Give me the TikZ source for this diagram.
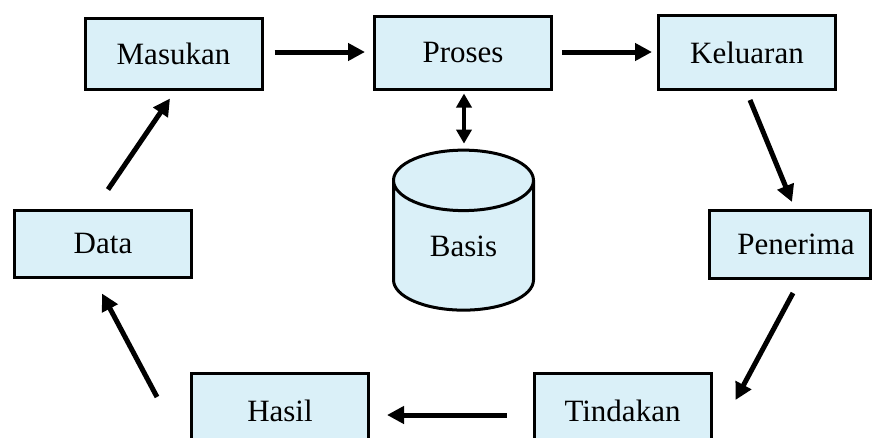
\documentclass[tikz,border=0pt]{standalone}
\usepackage{fontspec}
\setmainfont{Liberation Serif}
\usetikzlibrary{shapes.geometric, arrows.meta, calc}
\definecolor{boxCyan}{HTML}{DAF0F8}

\begin{document}
\begin{tikzpicture}[
    x=1pt, y=-1pt,
    box/.style={rectangle, draw, line width=3pt, fill=boxCyan, minimum width=177pt, minimum height=71pt, inner sep=0pt, font=\fontsize{31}{36}\selectfont},
    db/.style={cylinder, shape border rotate=90, aspect=0.9, draw, line width=3pt, fill=boxCyan, minimum width=140pt, minimum height=160pt, inner sep=0pt, font=\fontsize{31}{36}\selectfont},
    arrow/.style={-{Triangle[length=17pt, width=17pt]}, line width=5pt},
    dblarrow/.style={{Triangle[length=14pt, width=15pt]}-{Triangle[length=14pt, width=15pt]}, line width=4pt},
]
    \useasboundingbox (0,0) rectangle (875,437);
    \clip (0,0) rectangle (875,437);
    \fill[white] (0,0) rectangle (875,437);

    % Top row
    \node[box] (mas) at (173.5,53.5) {Masukan};
    \node[box, minimum height=73pt] (pro) at (463,52.5) {Proses};
    \node[box, minimum height=74pt] (kel) at (747,52.5) {Keluaran\hspace{16pt}};

    % Database
    \node[db] (bas) at (463.5,246) {Basis};

    % Middle row
    \node[box, minimum height=67pt] (dat) at (103,243.5) {Data};
    \node[box, minimum width=161pt, minimum height=68pt] (pen) at (790,244.5) {\hspace{12pt}Penerima};

    % Bottom row
    \node[box, minimum height=76pt] (has) at (280,411) {Hasil};
    \node[box, minimum height=76pt] (tin) at (622.5,411) {Tindakan};

    % Arrows
    \draw[arrow] ([xshift=11pt]mas.east |- 0,52) -- ([xshift=-8pt]pro.west |- 0,52);
    \draw[arrow] ([xshift=9pt]pro.east |- 0,52) -- ([xshift=-5pt]kel.west |- 0,52);
    \draw[dblarrow] ([shift={(1,3)}]pro.south) -- ([shift={(0.5,-5)}]bas.north);
    \draw[arrow] ([shift={(3,9)}]kel.south) -- ([shift={(2,-7)}]pen.north);
    \draw[arrow] ([shift={(3,13)}]pen.south) -- ([shift={(23,-11)}]tin.east);
    \draw[arrow] ([xshift=-26pt]tin.west |- 0,415) -- ([xshift=17pt]has.east |- 0,415);
    \draw[arrow] ([shift={(-33,-14)}]has.west) -- ([shift={(-1,15)}]dat.south);
    \draw[arrow] ([shift={(5,-19)}]dat.north) -- ([shift={(-3.5,8)}]mas.south);
\end{tikzpicture}
\end{document}
